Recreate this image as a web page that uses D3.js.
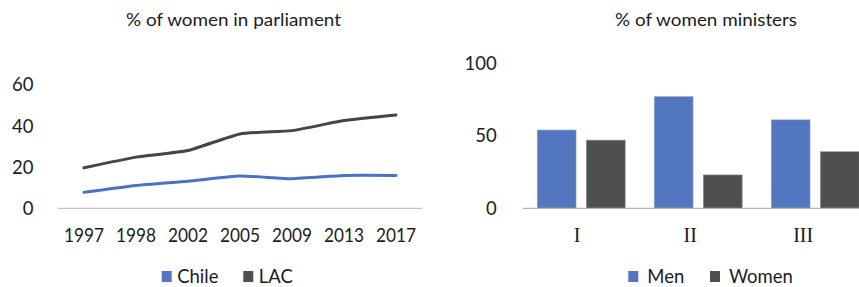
<!DOCTYPE html>
<html lang="en">
<head>
<meta charset="UTF-8">
<title>Women in parliament and ministers</title>
<script src="https://d3js.org/d3.v7.min.js"></script>
<style>
body { margin: 0; background: #fff; }
text { font-family: Lato, 'Noto Sans', sans-serif; fill: #1c1c1c; }
</style>
</head>
<body>
<svg class="container"></svg>
<script>
// left panel data
const years = ['1997', '1998', '2002', '2005', '2009', '2013', '2017'];
const chile = [7.8, 11.1, 13.2, 15.7, 14.4, 16.0, 16.0];
const lac = [19.7, 24.9, 28.1, 36.2, 37.8, 42.7, 45.4];
const leftTicks = [0, 20, 40, 60];

// right panel data
const cabinets = ['I', 'II', 'III'];
const men = [54, 77, 61];
const women = [47, 23, 39];
const rightTicks = [0, 50, 100];

const blue = '#5277be';
const dark = '#4e4f51';

const svg = d3.select('svg.container')
    .attr('width', 859)
    .attr('height', 287);

    // ---- left: line chart ----
let x1 = d3.scaleBand().domain(years).range([58, 422]);
let y1 = d3.scaleLinear().domain([0, 60]).range([208.3, 85]);

svg.append('text')
    .attr('x', 233.5).attr('y', 26)
    .attr('text-anchor', 'middle')
    .attr('font-size', 18)
    .attr('textLength', 215).attr('lengthAdjust', 'spacingAndGlyphs')
    .text('% of women in parliament');

svg.append('line')
    .attr('x1', 58).attr('x2', 422)
    .attr('y1', y1(0)).attr('y2', y1(0))
    .attr('stroke', '#b4b4b4').attr('stroke-width', 1);

svg.append('g').selectAll('text')
    .data(leftTicks).enter().append('text')
    .attr('x', 33.5)
    .attr('y', d => y1(d))
    .attr('dy', '0.35em')
    .attr('text-anchor', 'end')
    .attr('font-size', 18.5)
    .text(d => d);

svg.append('g').selectAll('text')
    .data(years).enter().append('text')
    .attr('x', d => x1(d) + x1.bandwidth() / 2)
    .attr('y', 242)
    .attr('text-anchor', 'middle')
    .attr('font-size', 18.5)
    .attr('textLength', 40).attr('lengthAdjust', 'spacingAndGlyphs')
    .text(d => d);

let line = d3.line()
    .x((d, i) => x1(years[i]) + x1.bandwidth() / 2)
    .y(d => y1(d))
    .curve(d3.curveCardinal.tension(0.5));

[[lac, '#454545'], [chile, '#4a72c0']].forEach(([vals, col]) => {
    svg.append('path')
        .datum(vals)
        .attr('d', line)
        .attr('fill', 'none')
        .attr('stroke', col)
        .attr('stroke-width', 3)
        .attr('stroke-linecap', 'round');
});

    // left legend
let legL = [['Chile', blue, 161.7], ['LAC', dark, 243.3]];
legL.forEach(([name, col, lx]) => {
    svg.append('rect')
        .attr('x', lx).attr('y', 271)
        .attr('width', 10).attr('height', 11)
        .attr('fill', col);
    svg.append('text')
        .attr('x', lx + 15.5).attr('y', 283)
        .attr('font-size', 18.5)
        .text(name);
});

    // ---- right: bar chart ----
let x2 = d3.scaleBand().domain(cabinets).range([522.7, 873.7]);
let xs = d3.scaleBand().domain(['Men', 'Women'])
    .range([0, x2.bandwidth()])
    .paddingInner(0.21).paddingOuter(0.296);
let y2 = d3.scaleLinear().domain([0, 100]).range([208.3, 63.3]);

svg.append('text')
    .attr('x', 706).attr('y', 26)
    .attr('text-anchor', 'middle')
    .attr('font-size', 18)
    .attr('textLength', 182).attr('lengthAdjust', 'spacingAndGlyphs')
    .text('% of women ministers');

svg.append('g').selectAll('text')
    .data(rightTicks).enter().append('text')
    .attr('x', 496.7)
    .attr('y', d => y2(d))
    .attr('dy', '0.35em')
    .attr('text-anchor', 'end')
    .attr('font-size', 18.5)
    .text(d => d);

let barData = [];
cabinets.forEach((c, i) => {
    barData.push({ cab: c, sex: 'Men', v: men[i] });
    barData.push({ cab: c, sex: 'Women', v: women[i] });
});

svg.append('g').selectAll('rect')
    .data(barData).enter().append('rect')
    .attr('x', d => x2(d.cab) + xs(d.sex))
    .attr('y', d => y2(d.v))
    .attr('width', xs.bandwidth())
    .attr('height', d => y2(0) - y2(d.v))
    .attr('fill', d => d.sex == 'Men' ? blue : dark)
    .attr('stroke', d => d.sex == 'Men' ? '#8fa6d6' : '#8a8b8d')
    .attr('stroke-width', 0.6);

svg.append('line')
    .attr('x1', 522.7).attr('x2', 873.7)
    .attr('y1', y2(0)).attr('y2', y2(0))
    .attr('stroke', '#b4b4b4').attr('stroke-width', 1.2);

    // roman numeral labels sit a little left of the group centres
let labelX = d3.scalePoint().domain(cabinets)
    .range([x2('I') + x2.bandwidth() / 2 - 4, x2('III') + x2.bandwidth() / 2 - 12]);
svg.append('g').selectAll('text')
    .data(cabinets).enter().append('text')
    .attr('x', d => labelX(d))
    .attr('y', 242)
    .attr('text-anchor', 'middle')
    .attr('font-size', 20)
    .style('font-family', "'Liberation Serif', 'DejaVu Serif', serif")
    .text(d => d);

    // right legend
let legR = [['Men', blue, 628.3], ['Women', dark, 710]];
legR.forEach(([name, col, lx]) => {
    svg.append('rect')
        .attr('x', lx).attr('y', 271)
        .attr('width', 10).attr('height', 11)
        .attr('fill', col);
    svg.append('text')
        .attr('x', lx + 19).attr('y', 283)
        .attr('font-size', 18.5)
        .text(name);
});
</script>
</body>
</html>
